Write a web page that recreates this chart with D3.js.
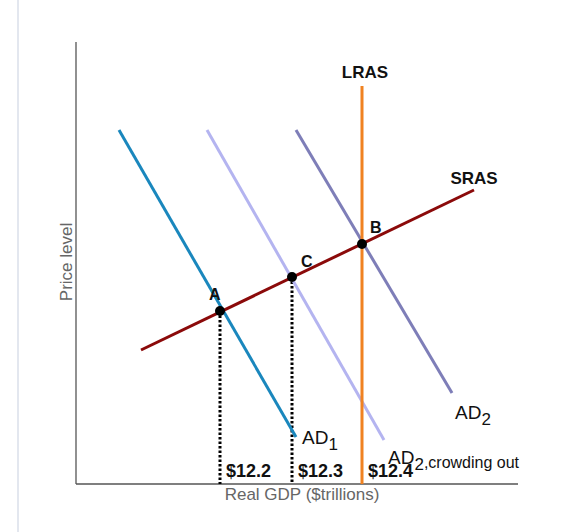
<!DOCTYPE html><html><head><script src="https://cdn.jsdelivr.net/npm/d3@7"></script>
<style>body{margin:0;background:#fff}text{font-family:"Liberation Sans",Arial,sans-serif}</style></head><body><script>
// data in chart units (x: GDP-axis units, y: price-level units)
const curves = [
  {name:"AD1", color:"#1a87bd", pts:[[43,354],[220,47]]},
  {name:"AD2c", color:"#b4b4f0", pts:[[131,354],[308,44]]},
  {name:"AD2", color:"#7e7eb8", pts:[[220,354],[376,91]]},
  {name:"SRAS", color:"#8b0a0a", pts:[[65,134],[398,294]]}
];
const lras = {x:286, y0:0, y1:398};
const points = [{n:"A",x:144,y:173},{n:"C",x:216,y:207},{n:"B",x:286,y:240}];
const gdpLabels = ["$12.2","$12.3","$12.4"];
const gdpX = [144,216,286];

const W=571,H=532;
const svg=d3.select("body").append("svg").attr("width",W).attr("height",H);
const x=d3.scaleLinear().domain([0,442]).range([76,518]);
const y=d3.scaleLinear().domain([0,442]).range([484,42]);
svg.append("line").attr("x1",18).attr("x2",18).attr("y1",0).attr("y2",532).attr("stroke","#e3e7ef").attr("stroke-width",2);
svg.append("line").attr("x1",x(0)).attr("x2",x(0)).attr("y1",y(442)).attr("y2",y(0)).attr("stroke","#555").attr("stroke-width",1.3);
svg.append("line").attr("x1",x(0)).attr("x2",x(442)).attr("y1",y(0)).attr("y2",y(0)).attr("stroke","#555").attr("stroke-width",1.3);
const line=d3.line().x(d=>x(d[0])).y(d=>y(d[1]));
points.slice(0,2).forEach(p=>svg.append("line").attr("x1",x(p.x)).attr("x2",x(p.x)).attr("y1",y(p.y)).attr("y2",y(0)).attr("stroke","#000").attr("stroke-width",3).attr("stroke-dasharray","2.5,2"));
curves.forEach(c=>svg.append("path").attr("d",line(c.pts)).attr("stroke",c.color).attr("stroke-width",3).attr("fill","none"));
svg.append("line").attr("x1",x(lras.x)).attr("x2",x(lras.x)).attr("y1",y(lras.y0)).attr("y2",y(lras.y1)).attr("stroke","#f08221").attr("stroke-width",3);
points.forEach(p=>svg.append("circle").attr("cx",x(p.x)).attr("cy",y(p.y)).attr("r",5).attr("fill","#000"));
const t=(s,px,py,o={})=>svg.append("text").attr("x",px).attr("y",py).attr("font-size",o.fs||17).attr("font-weight",o.b?"bold":"normal").attr("fill",o.c||"#111").attr("text-anchor",o.a||"start").text(s);
t("LRAS",365,78,{b:1,a:"middle"});
t("SRAS",474,184,{b:1,a:"middle"});
t("B",370,233,{b:1,fs:16});t("C",301,267,{b:1,fs:16});t("A",209,300,{b:1,fs:16});
gdpLabels.forEach((s,i)=>t(s,x(gdpX[i])+6,477,{b:1,fs:18}));
function sub(s,n,px,py,extra){const e=svg.append("text").attr("x",px).attr("y",py).attr("font-size",19).attr("fill","#111");e.append("tspan").text(s);e.append("tspan").attr("dy",6).attr("font-size",17).text(n);if(extra)e.append("tspan").attr("font-size",16).attr("dy",-2).text(extra);}
sub("AD","1",302,444);
sub("AD","2",455,419);
sub("AD","2",388,464,",crowding out");
t("Real GDP ($trillions)",302,500,{c:"#666",a:"middle",fs:17});
svg.append("text").attr("transform","translate(72,262) rotate(-90)").attr("text-anchor","middle").attr("font-size",17).attr("fill","#666").text("Price level");
</script></body></html>
